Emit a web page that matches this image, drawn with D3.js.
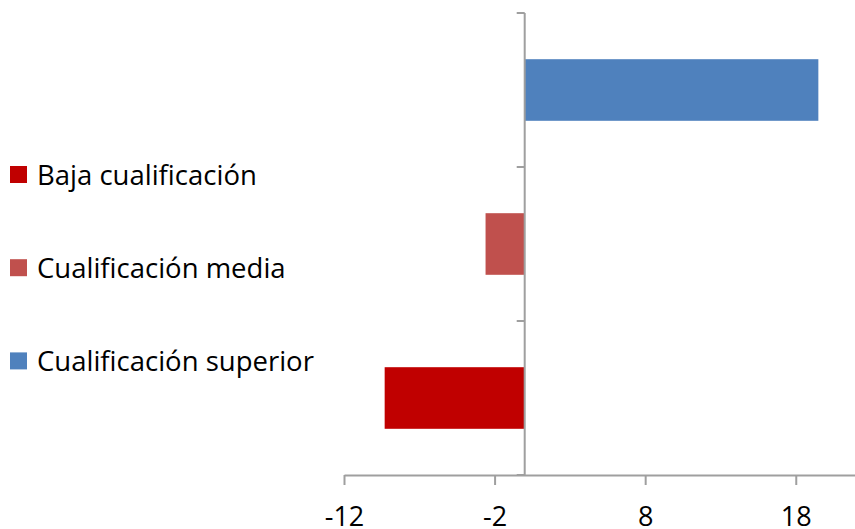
<!DOCTYPE html>
<html>
<head>
<meta charset="utf-8">
<script src="https://cdn.jsdelivr.net/npm/d3@7"></script>
<style>
  html, body { margin: 0; padding: 0; background: #fff; }
  svg { display: block; }
  text { font-family: "Open Sans", "DejaVu Sans", sans-serif; fill: #000; }
</style>
</head>
<body>
<svg id="chart" width="855" height="529"></svg>
<script>
// Data
const categories = ["Cualificación superior", "Cualificación media", "Baja cualificación"]; // top to bottom
const values = [19.5, -2.6, -9.3];
const colors = ["#4F81BD", "#C0504D", "#C00000"];
const legendOrder = ["Baja cualificación", "Cualificación media", "Cualificación superior"];
const xTicks = [-12, -2, 8, 18];
const xDomain = [-12, 22];

const svg = d3.select("#chart");
const axisColor = "#9f9f9f";

const x = d3.scaleLinear().domain(xDomain).range([344, 856]);
const y = d3.scaleBand().domain(categories).range([13, 475]).padding(0);
const barH = y.bandwidth() * 0.4;

// Bars
svg.append("g").selectAll("rect")
  .data(categories)
  .join("rect")
  .attr("x", (d, i) => x(Math.min(0, values[i])))
  .attr("width", (d, i) => Math.abs(x(values[i]) - x(0)))
  .attr("y", d => y(d) + (y.bandwidth() - barH) / 2)
  .attr("height", barH)
  .attr("fill", (d, i) => colors[i]);

// X axis
const xAxis = svg.append("g")
  .attr("transform", "translate(0,475)")
  .call(d3.axisBottom(x).tickValues(xTicks).tickSize(10).tickSizeOuter(0).tickFormat(d3.format("d")));
xAxis.select(".domain").attr("stroke", axisColor).attr("stroke-width", 2);
xAxis.selectAll(".tick line").attr("stroke", axisColor).attr("stroke-width", 2);
xAxis.selectAll(".tick text")
  .attr("y", 51)
  .attr("dy", 0)
  .style("font-size", "27px")
  .style("font-family", "'Open Sans', sans-serif")
  .attr("fill", "#000")
  .text(d => d < 0 ? "-" + Math.abs(d) : d);

// Y axis (vertical line at zero with ticks at band boundaries)
const yAxisG = svg.append("g");
const x0 = x(0);
yAxisG.append("line")
  .attr("x1", x0).attr("x2", x0)
  .attr("y1", y.range()[0]).attr("y2", y.range()[1])
  .attr("stroke", axisColor).attr("stroke-width", 2);
const boundaries = categories.map(c => y(c)).concat([y(categories[categories.length - 1]) + y.bandwidth()]);
yAxisG.selectAll("line.tick")
  .data(boundaries)
  .join("line")
  .attr("class", "tick")
  .attr("x1", x0 - 8).attr("x2", x0)
  .attr("y1", d => d).attr("y2", d => d)
  .attr("stroke", axisColor).attr("stroke-width", 2);

// Legend
const legendColor = {};
categories.forEach((c, i) => legendColor[c] = colors[i]);
const lg = svg.append("g");
legendOrder.forEach((name, i) => {
  const cy = 174.5 + i * 93.2;
  lg.append("rect")
    .attr("x", 10).attr("y", cy - 8.5)
    .attr("width", 17).attr("height", 17)
    .attr("fill", legendColor[name]);
  lg.append("text")
    .attr("x", 37).attr("y", cy + 10)
    .style("font-size", "27.5px")
    .text(name);
});
</script>
</body>
</html>
